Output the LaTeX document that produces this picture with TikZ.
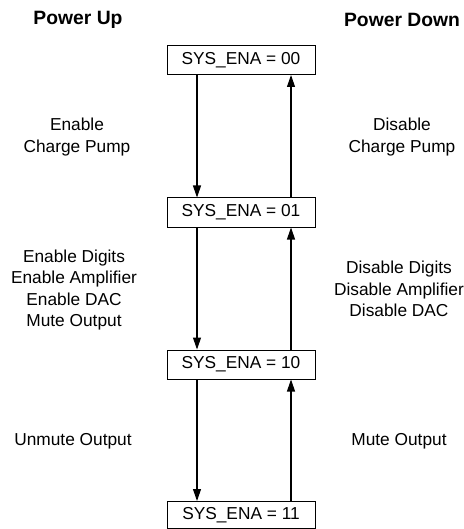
\documentclass[tikz,border=0pt]{standalone}
\usepackage{fontspec}
\setmainfont{Liberation Sans}
\usetikzlibrary{arrows.meta}
\begin{document}
\begin{tikzpicture}[x=1pt,y=1pt,
  every node/.style={font=\fontsize{17.3}{21.5}\selectfont, inner sep=0pt},
  statebox/.style={draw, line width=1pt, minimum width=148pt, minimum height=29pt, anchor=center},
  title/.style={font=\fontsize{19.3}{23}\selectfont\bfseries},
  lbl/.style={align=center},
  arr/.style={line width=1.1pt, -{Triangle[length=12pt,width=8pt]}}
]
\useasboundingbox (0,0) rectangle (463,-529);
\node[title] (pu) at (78,-20) {Power Up};
\node[title] (pd) at (402,-20) {Power Down};

\node[statebox] (b0) at (241,-60) {SYS\_ENA = 00};
\node[statebox] (b1) at (241,-212.5) {SYS\_ENA = 01};
\node[statebox] (b2) at (241,-364.5) {SYS\_ENA = 10};
\node[statebox, minimum height=27pt] (b3) at (241,-515) {SYS\_ENA = 11};

\coordinate (xl) at (197,0);
\coordinate (xr) at (291,0);

\draw[arr] (b0.south -| xl) -- (b1.north -| xl);
\draw[arr] (b1.south -| xl) -- (b2.north -| xl);
\draw[arr] (b2.south -| xl) -- (b3.north -| xl);
\draw[arr] (b1.north -| xr) -- (b0.south -| xr);
\draw[arr] (b2.north -| xr) -- (b1.south -| xr);
\draw[arr] (b3.north -| xr) -- (b2.south -| xr);

\node[lbl] (l1) at (77,-137) {Enable\\Charge Pump};
\node[lbl] (l2) at (74,-290) {Enable Digits\\Enable Amplifier\\Enable DAC\\Mute Output};
\node[lbl] (l3) at (73,-441) {Unmute Output};
\node[lbl] (r1) at (402,-137) {Disable\\Charge Pump};
\node[lbl] (r2) at (399,-289) {Disable Digits\\Disable Amplifier\\Disable DAC};
\node[lbl] (r3) at (399,-441) {Mute Output};
\end{tikzpicture}
\end{document}
